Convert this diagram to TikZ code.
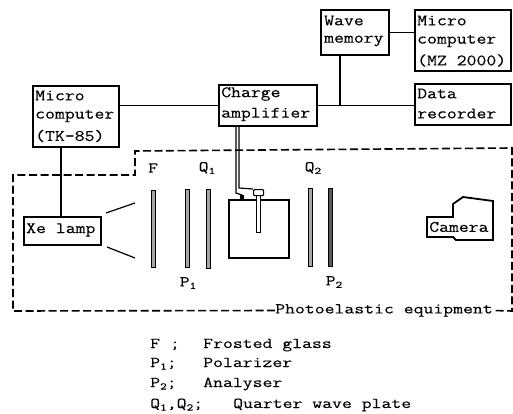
\documentclass[tikz,border=0pt]{standalone}
\usepackage{fontspec}
\newfontfamily\tw{Latin Modern Mono}[FakeStretch=1.2,FakeBold=0.25]
\newfontfamily\tl{Latin Modern Mono}[FakeStretch=1.28,FakeBold=0.15]
\tikzset{
  box/.style={draw=black,line width=2pt,rectangle,inner sep=0pt,anchor=north west,align=left},
  boxtext/.style={font=\tw\fontsize{16}{20}\selectfont,align=left,anchor=west,inner sep=0pt},
  conn/.style={draw=black,line width=1.8pt},
  thin conn/.style={draw=black,line width=1.2pt},
  plate/.style={draw=black,line width=1pt,fill=black!35,rectangle,inner sep=0pt,anchor=north west},
  lab/.style={font=\tl\fontsize{15}{16}\selectfont,inner sep=0pt},
  leg/.style={font=\tl\fontsize{15}{16}\selectfont,inner sep=0pt,anchor=base west},
  dash line/.style={draw=black,line width=1.6pt,dash pattern=on 8pt off 3.5pt}
}
\newcommand{\sbs}[1]{\raisebox{-2.5pt}{\fontsize{10}{10}\selectfont #1}}
\begin{document}
\begin{tikzpicture}[x=1pt,y=-1pt]
\useasboundingbox (0,0) rectangle (513,414);
% boxes
\node[box,minimum width=86pt,minimum height=61pt] (tk) at (32,85) {};
\node[boxtext] at (35,95.5) {Micro};
\node[boxtext] at (35,116) {computer};
\node[boxtext] at (35,136) {(TK-85)};
\node[box,minimum width=98pt,minimum height=41pt] (cha) at (218,84) {};
\node[boxtext] at (221,94) {Charge};
\node[boxtext] at (221,114.5) {amplifier};
\node[box,minimum width=68pt,minimum height=45pt] (wave) at (320,9) {};
\node[boxtext] at (324,20.5) {Wave};
\node[boxtext] at (324,41) {memory};
\node[box,minimum width=96pt,minimum height=61pt] (mz) at (414,9) {};
\node[boxtext] at (417,20.5) {Micro};
\node[boxtext] at (417,41) {computer};
\node[boxtext] at (417,60.5) {(MZ 2000)};
\node[box,minimum width=96pt,minimum height=41pt] (data) at (414,83) {};
\node[boxtext] at (417,93.5) {Data};
\node[boxtext] at (417,113.5) {recorder};
\node[box,minimum width=77pt,minimum height=28pt] (xe) at (23,216) {};
\node[boxtext] at (26,230) {Xe lamp};
% connectors
\coordinate (j) at (340,105);
\coordinate (tkx) at (61,180);
\draw[conn] (tk.east |- cha.west) -- (cha.west);
\draw[conn] (wave.east) -- (wave.east -| mz.west);
\draw[conn] (j |- wave.south) -- (j);
\draw[conn] (cha.east) -- (cha.east -| data.west);
\draw[conn] (tkx |- tk.south) -- (tkx |- xe.north);
% dashed frame
\node[lab,anchor=west] (pe) at (275,310.5) {Photoelastic equipment};
\coordinate (fa) at (13,311);
\draw[dash line] (pe.west) -- (fa) -- (13,175) -- (135,175) -- (135,151) -- (512,148) -- (512,311) -- (pe.east);
% rays
\draw[thin conn] (106,213) -- (135,203);
\draw[thin conn] (107,247) -- (135,258);
% plates
\node[plate,minimum width=4pt,minimum height=77pt] (F) at (151,190) {};
\node[plate,minimum width=4pt,minimum height=78pt] (P1) at (185,189) {};
\node[plate,minimum width=3.5pt,minimum height=79pt] (Q1) at (206,189) {};
\node[plate,minimum width=4pt,minimum height=78pt] (Q2) at (308,188) {};
\node[plate,minimum width=3.5pt,minimum height=78pt,fill=black!65] (P2) at (328,188) {};
\node[lab] at (153,168) {F};
\node[lab] at (207,168) {Q\sbs{1}};
\node[lab] at (313,168) {Q\sbs{2}};
\node[lab] at (188,283) {P\sbs{1}};
\node[lab] at (334,282) {P\sbs{2}};
% specimen
\node[draw=black,line width=1.5pt,rectangle,inner sep=0pt,anchor=north west,minimum width=60pt,minimum height=58pt] (spec) at (228,199) {};
\node[draw=black,line width=1pt,fill=white,rectangle,inner sep=0pt,anchor=north west,minimum width=4pt,minimum height=38pt] (stem) at (256,194) {};
\node[draw=black,line width=1.2pt,fill=white,rectangle,rounded corners=1pt,inner sep=0pt,anchor=north west,minimum width=10pt,minimum height=6pt] (head) at (253,189) {};
\node[fill=black,rectangle,inner sep=0pt,minimum width=4pt,minimum height=5pt,anchor=north west] (dot) at (240,195) {};
\coordinate (c1) at (236,193);
\coordinate (c2) at (239,188);
\draw[thin conn] (c1 |- cha.south) -- (c1) -- (dot.north);
\draw[thin conn] (c2 |- cha.south) -- (c2) -- (head.north west);
% camera
\draw[conn] (427,217) -- (453,217) -- (453,204) -- (463,197) -- (493,201) -- (493,240) -- (456,240) -- (453,237) -- (427,237) -- cycle;
\node[boxtext,anchor=west] at (429,227) {Camera};
% legend
\node[leg] at (150,348) {F ;};
\node[leg] at (203,348) {Frosted glass};
\node[leg] at (150,367) {P\sbs{1};};
\node[leg] at (203,367) {Polarizer};
\node[leg] at (150,387) {P\sbs{2};};
\node[leg] at (203,387) {Analyser};
\node[leg] at (150,408) {Q\sbs{1},Q\sbs{2};};
\node[leg] at (233,408) {Quarter wave plate};
\end{tikzpicture}
\end{document}
